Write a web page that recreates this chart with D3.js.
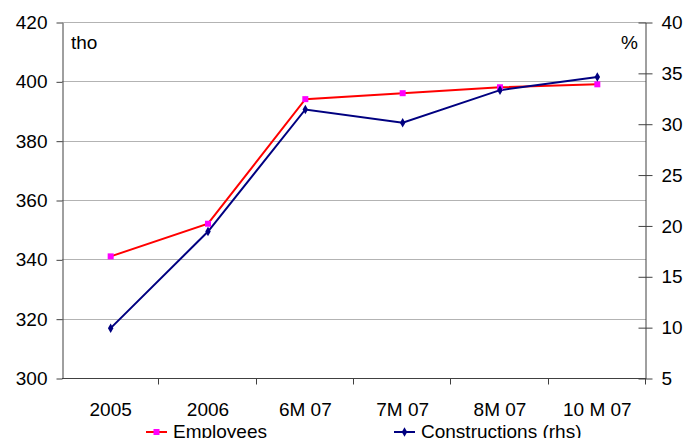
<!DOCTYPE html>
<html>
<head>
<meta charset="utf-8">
<script src="https://cdn.jsdelivr.net/npm/d3@7"></script>
<style>
  html, body { margin: 0; padding: 0; background: #fff; }
  svg { display: block; }
  text { font-family: "Liberation Sans", Arial, sans-serif; fill: #000; }
</style>
</head>
<body>
<svg id="chart" width="686" height="438"></svg>
<script>
// Periods on the category axis
const categories = ["2005", "2006", "6M 07", "7M 07", "8M 07", "10 M 07"];
// Employees, thousands (left axis)
const employees = [341, 352, 394, 396, 398, 399];
// Constructions, % (right axis)
const constructions = [9.9, 19.4, 31.4, 30.1, 33.3, 34.6];
// Axis tick values
const leftTicks = [300, 320, 340, 360, 380, 400, 420];
const rightTicks = [5, 10, 15, 20, 25, 30, 35, 40];

const svg = d3.select("#chart");
const W = 686, H = 438;
const plot = { left: 62, right: 646, top: 22, bottom: 378 };
const fontSize = 19;
const axisColor = "#404040";
const gridColor = "#b3b3b3";

const x = d3.scaleBand().domain(categories).range([plot.left, plot.right]).padding(0);
const yL = d3.scaleLinear().domain([300, 420]).range([plot.bottom, plot.top]);
const yR = d3.scaleLinear().domain([5, 40]).range([plot.bottom, plot.top]);
const cx = d => x(d) + x.bandwidth() / 2;

// Horizontal gridlines at left-axis ticks
svg.append("g").selectAll("line")
  .data(leftTicks.filter(t => t !== 300))
  .join("line")
  .attr("x1", plot.left).attr("x2", plot.right)
  .attr("y1", d => Math.round(yL(d)) + 0.5).attr("y2", d => Math.round(yL(d)) + 0.5)
  .attr("stroke", gridColor).attr("stroke-width", 1);

// Left axis
const gLeft = svg.append("g")
  .attr("transform", `translate(${plot.left + 0.5},0.5)`)
  .call(d3.axisLeft(yL).tickValues(leftTicks).tickSize(6).tickPadding(9).tickSizeOuter(0));
gLeft.selectAll("text").style("font-size", fontSize + "px").attr("font-family", "Liberation Sans, Arial, sans-serif");

// Right axis (ticks cross the axis line)
const gRight = svg.append("g")
  .attr("transform", `translate(${plot.right - 0.5},0.5)`)
  .call(d3.axisRight(yR).tickValues(rightTicks).tickSize(7).tickPadding(9).tickSizeOuter(0));
gRight.selectAll(".tick line").attr("x1", -7);
gRight.selectAll("text").style("font-size", fontSize + "px").attr("font-family", "Liberation Sans, Arial, sans-serif");

// Bottom axis: ticks sit between categories, labels at centres
const gBottom = svg.append("g")
  .attr("transform", `translate(0,${plot.bottom + 0.5})`);
gBottom.append("line")
  .attr("x1", plot.left).attr("x2", plot.right)
  .attr("stroke", axisColor);
const boundaries = categories.map(c => x(c)).slice(1).concat([plot.right]);
gBottom.selectAll("line.tk").data(boundaries).join("line")
  .attr("class", "tk")
  .attr("x1", d => Math.round(d) - 0.5).attr("x2", d => Math.round(d) - 0.5)
  .attr("y1", 0).attr("y2", 6)
  .attr("stroke", axisColor);
gBottom.selectAll("text").data(categories).join("text")
  .attr("x", d => cx(d)).attr("y", 37)
  .attr("text-anchor", "middle")
  .style("font-size", fontSize + "px")
  .text(d => d);

[gLeft, gRight].forEach(g => {
  g.select(".domain").attr("stroke", axisColor);
  g.selectAll(".tick line").attr("stroke", axisColor);
  g.selectAll(".tick text").attr("fill", "#000");
});

// Unit labels
svg.append("text").attr("x", 71).attr("y", 49).style("font-size", fontSize + "px").text("tho");
svg.append("text").attr("x", 638).attr("y", 49).attr("text-anchor", "end").style("font-size", fontSize + "px").text("%");

// Series lines
const lineL = d3.line().x((d, i) => cx(categories[i])).y(d => yL(d));
const lineR = d3.line().x((d, i) => cx(categories[i])).y(d => yR(d));

svg.append("path").datum(employees)
  .attr("d", lineL).attr("fill", "none")
  .attr("stroke", "#ff0000").attr("stroke-width", 2);
svg.append("path").datum(constructions)
  .attr("d", lineR).attr("fill", "none")
  .attr("stroke", "#000080").attr("stroke-width", 2);

// Markers
svg.append("g").selectAll("rect").data(employees).join("rect")
  .attr("x", (d, i) => cx(categories[i]) - 3)
  .attr("y", d => yL(d) - 3)
  .attr("width", 6).attr("height", 6)
  .attr("fill", "#ff00ff");
const diamond = d3.symbol().type(d3.symbolDiamond).size(26);
svg.append("g").selectAll("path").data(constructions).join("path")
  .attr("transform", (d, i) => `translate(${cx(categories[i])},${yR(d)})`)
  .attr("d", diamond)
  .attr("fill", "#000080");

// Legend
const legend = svg.append("g");
const items = [
  { name: "Employees", color: "#ff0000", marker: "square", x: 146 },
  { name: "Constructions (rhs)", color: "#000080", marker: "diamond", x: 394 }
];
const ly = 432;
items.forEach(it => {
  legend.append("line")
    .attr("x1", it.x).attr("x2", it.x + 21)
    .attr("y1", ly).attr("y2", ly)
    .attr("stroke", it.color).attr("stroke-width", 2);
  if (it.marker === "square") {
    legend.append("rect")
      .attr("x", it.x + 10.5 - 3).attr("y", ly - 3)
      .attr("width", 6).attr("height", 6).attr("fill", "#ff00ff");
  } else {
    legend.append("path")
      .attr("transform", `translate(${it.x + 10.5},${ly})`)
      .attr("d", diamond).attr("fill", it.color);
  }
  legend.append("text")
    .attr("x", it.x + 27).attr("y", ly + 6)
    .style("font-size", fontSize + "px")
    .text(it.name);
});
</script>
</body>
</html>
